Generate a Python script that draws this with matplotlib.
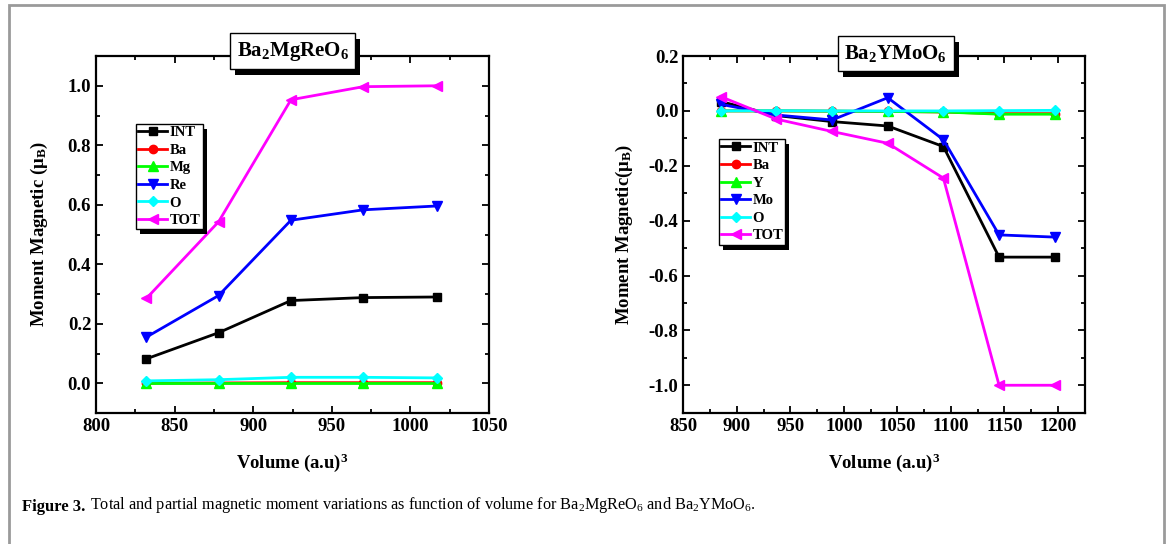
import matplotlib
matplotlib.use('Agg')
import matplotlib.pyplot as plt
from matplotlib.patches import Rectangle
from matplotlib.ticker import MultipleLocator

plt.rcParams['font.family'] = 'Liberation Serif'
plt.rcParams['font.weight'] = 'bold'
plt.rcParams['axes.labelweight'] = 'bold'
plt.rcParams['axes.unicode_minus'] = False
plt.rcParams['mathtext.fontset'] = 'custom'
plt.rcParams['mathtext.rm'] = 'Liberation Serif:weight=normal'
plt.rcParams['mathtext.it'] = 'Liberation Serif:italic:weight=normal'
plt.rcParams['mathtext.bf'] = 'Liberation Serif:bold'

# Ba2MgReO6
vol_mg = [832, 878, 924, 970, 1017]
int_mg = [0.082, 0.170, 0.278, 0.288, 0.290]
ba_mg = [0.000, 0.001, 0.002, 0.002, 0.002]
mg_mg = [0.000, 0.000, 0.000, 0.000, 0.000]
re_mg = [0.155, 0.295, 0.548, 0.583, 0.596]
o_mg = [0.008, 0.012, 0.020, 0.020, 0.018]
tot_mg = [0.285, 0.543, 0.953, 0.997, 1.000]

# Ba2YMoO6
vol_y = [885, 937, 989, 1041, 1093, 1145, 1197]
int_y = [0.034, -0.017, -0.039, -0.055, -0.130, -0.533, -0.533]
ba_y = [0.000, 0.000, -0.001, -0.002, -0.004, -0.010, -0.010]
y_y = [0.000, 0.000, -0.001, -0.002, -0.004, -0.012, -0.012]
mo_y = [0.024, -0.015, -0.033, 0.048, -0.105, -0.452, -0.460]
o_y = [0.000, 0.001, 0.000, 0.000, 0.000, 0.001, 0.002]
tot_y = [0.052, -0.030, -0.075, -0.118, -0.245, -1.000, -1.000]

fig = plt.figure(figsize=(11.68, 5.44), dpi=100)
ax1 = fig.add_axes([0.0822, 0.2408, 0.3365, 0.6562])
ax2 = fig.add_axes([0.5850, 0.2414, 0.3437, 0.6556])

styles = [('k', 's', 5.5), ('r', 'o', 6), ('#00ff00', '^', 6.5),
          ('b', 'v', 6.5), ('cyan', 'D', 5), ('magenta', '<', 6.5)]


def draw(ax, x, series, names):
    for (c, m, ms), y, name in zip(styles, series, names):
        ax.plot(x, y, color=c, marker=m, ms=ms, lw=2, label=name)
    ax.tick_params(which='both', direction='in', top=True, right=True,
                   labelsize=13.5, width=1.3)
    ax.tick_params(which='major', length=5)
    ax.tick_params(which='minor', length=3)
    for s in ax.spines.values():
        s.set_linewidth(1.6)
    ax.set_xlabel('Volume (a.u)$^\\mathbf{3}$', fontsize=13.5, labelpad=12)
    ax.xaxis.set_major_locator(MultipleLocator(50))
    ax.xaxis.set_minor_locator(MultipleLocator(25))
    ax.yaxis.set_major_locator(MultipleLocator(0.2))
    ax.yaxis.set_minor_locator(MultipleLocator(0.1))


draw(ax1, vol_mg, [int_mg, ba_mg, mg_mg, re_mg, o_mg, tot_mg],
     ['INT', 'Ba', 'Mg', 'Re', 'O', 'TOT'])
ax1.set_xlim(800, 1050)
ax1.set_ylim(-0.1, 1.1)
ax1.set_ylabel('Moment Magnetic (μ$_\\mathbf{B}$)', fontsize=13.5, labelpad=13)

draw(ax2, vol_y, [int_y, ba_y, y_y, mo_y, o_y, tot_y],
     ['INT', 'Ba', 'Y', 'Mo', 'O', 'TOT'])
ax2.set_xlim(850, 1225)
ax2.set_ylim(-1.1, 0.2)
ax2.set_ylabel('Moment Magnetic(μ$_\\mathbf{B}$)', fontsize=13.5, labelpad=10)

legs = []
for ax, anchor in [(ax1, (0.102, 0.81)), (ax2, (0.089, 0.767))]:
    leg = ax.legend(loc='upper left', bbox_to_anchor=anchor, borderaxespad=0,
                    fontsize=10.5, fancybox=False, edgecolor='k', framealpha=1,
                    handlelength=2.0, handletextpad=0.15, labelspacing=0.3,
                    borderpad=0.15)
    leg.get_frame().set_linewidth(1)
    legs.append((ax, leg))

titles = [fig.text(0.2506, 0.906, 'Ba$_\\mathbf{2}$MgReO$_\\mathbf{6}$'),
          fig.text(0.767, 0.9017, 'Ba$_\\mathbf{2}$YMoO$_\\mathbf{6}$')]
for t in titles:
    t.set_fontsize(15)
    t.set_ha('center')
    t.set_va('center')
    t.set_bbox(dict(boxstyle='square,pad=0.32', fc='white', ec='k', lw=1))

cap = fig.text(0.019, 0.06, 'Figure 3.', fontsize=12, weight='bold', va='baseline')
ax1.annotate(' Total and partial magnetic moment variations as function of volume for '
             'Ba$_2$MgReO$_6$ and Ba$_2$YMoO$_6$.', xy=(1, 0), xycoords=cap,
             fontsize=11.7, weight='normal', va='bottom', annotation_clip=False)

# black drop shadows behind the title boxes and legends
fig.canvas.draw()
dx, dy = 5, -6
inv = fig.transFigure.inverted()
for t in titles:
    bb = t.get_bbox_patch().get_window_extent()
    (x0, y0), (x1, y1) = inv.transform([(bb.x0 + dx, bb.y0 + dy), (bb.x1 + dx, bb.y1 + dy)])
    fig.add_artist(Rectangle((x0, y0), x1 - x0, y1 - y0, transform=fig.transFigure,
                             fc='k', ec='none', zorder=2.9))
for ax, leg in legs:
    bb = leg.get_frame().get_window_extent()
    ainv = ax.transAxes.inverted()
    (x0, y0), (x1, y1) = ainv.transform([(bb.x0 + 4, bb.y0 - 5), (bb.x1 + 4, bb.y1 - 5)])
    ax.add_patch(Rectangle((x0, y0), x1 - x0, y1 - y0, transform=ax.transAxes,
                           fc='k', ec='none', zorder=4.9, clip_on=False))

fig.add_artist(Rectangle((0.0073, -0.02), 0.9893, 1.0108, transform=fig.transFigure,
                         fill=False, ec='#9a9a9a', lw=2))

fig.savefig('out.png', dpi=100)
